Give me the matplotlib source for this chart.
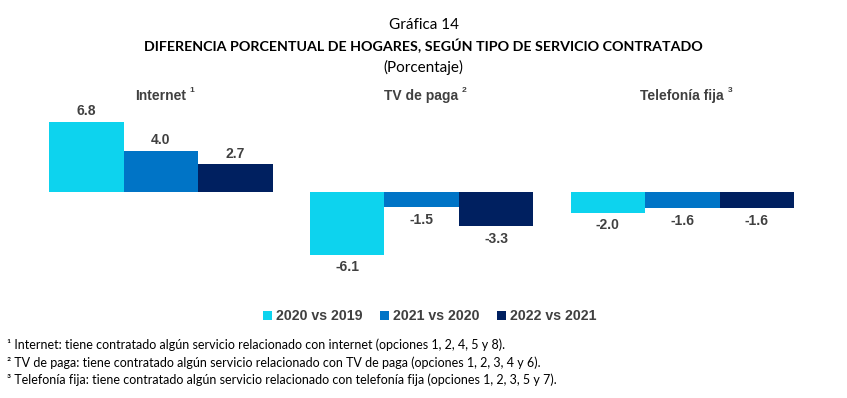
import matplotlib
matplotlib.use("Agg")
import matplotlib.pyplot as plt
import numpy as np

groups = ["Internet", "TV de paga", "Telefonía fija"]
group_sup = ["1", "2", "3"]
series = ["2020 vs 2019", "2021 vs 2020", "2022 vs 2021"]
v2020 = [6.8, -6.1, -2.0]
v2021 = [4.0, -1.5, -1.6]
v2022 = [2.7, -3.3, -1.6]
colors = ["#0DD3EE", "#0074C6", "#002060"]
footnotes = [
    "¹ Internet: tiene contratado algún servicio relacionado con internet (opciones 1, 2, 4, 5 y 8).",
    "² TV de paga: tiene contratado algún servicio relacionado con TV de paga (opciones 1, 2, 3, 4 y 6).",
    "³ Telefonía fija: tiene contratado algún servicio relacionado con telefonía fija (opciones 1, 2, 3, 5 y 7).",
]

W, H = 847, 398
fig = plt.figure(figsize=(W / 100, H / 100), dpi=100)
fig.patch.set_facecolor("white")

ax_left, ax_right = 49, 794
ax_top, ax_bot = 110, 270
ax = fig.add_axes([ax_left / W, 1 - ax_bot / H, (ax_right - ax_left) / W, (ax_bot - ax_top) / H])
ax.set_xlim(-0.5, 9.5)
ppu = 10.3
zero = 192
ax.set_ylim(-(ax_bot - zero) / ppu, (zero - ax_top) / ppu)
ax.axis("off")

LAB = ["Liberation Sans Narrow", "Liberation Sans", "DejaVu Sans"]
gray = "#404040"
base = np.arange(len(groups)) * 3.5
allvals = [v2020, v2021, v2022]
for i, (vals, c, name) in enumerate(zip(allvals, colors, series)):
    x = base + i
    ax.bar(x, vals, width=1.0, color=c, label=name, edgecolor="none")
    for xi, v in zip(x, vals):
        if v >= 0:
            ax.annotate(f"{v:.1f}", (xi, v), xytext=(0, 2.5), textcoords="offset points",
                        ha="center", va="bottom", fontsize=10, fontweight="bold",
                        color=gray, family=LAB)
        else:
            ax.annotate(f"{v:.1f}", (xi, v), xytext=(0, -4), textcoords="offset points",
                        ha="center", va="top", fontsize=10, fontweight="bold",
                        color=gray, family=LAB)

# group labels
for g, s, b in zip(groups, group_sup, base):
    xc = b + 1
    t = ax.text(xc, (zero - 96) / ppu, g, ha="center", va="center", fontsize=10,
                fontweight="bold", color=gray, family=["Liberation Sans", "DejaVu Sans"])
    ax.annotate(s, xy=(1, 1), xycoords=t, xytext=(2.5, -1), textcoords="offset points",
                ha="left", va="center", fontsize=6, fontweight="bold", color=gray,
                family=["Liberation Sans", "DejaVu Sans"])

# titles
TF = ["Lato", "DejaVu Sans"]
fig.text(0.5, 1 - 25 / H, "Gráfica 14", ha="center", va="center", fontsize=11, family=TF, color="black")
fig.text(0.5, 1 - 46 / H, "DIFERENCIA PORCENTUAL DE HOGARES, SEGÚN TIPO DE SERVICIO CONTRATADO",
         ha="center", va="center", fontsize=10.3, fontweight="bold", family=TF, color="black")
fig.text(0.5, 1 - 67 / H, "(Porcentaje)", ha="center", va="center", fontsize=11, family=TF, color="black")

# legend
leg = fig.legend(loc="center", bbox_to_anchor=(430 / W, 1 - 316 / H), ncol=3, frameon=False,
                 handlelength=0.6, handleheight=0.6, handletextpad=0.3, columnspacing=1.25,
                 prop={"family": ["Liberation Sans", "DejaVu Sans"], "weight": "bold", "size": 10.2})
for t in leg.get_texts():
    t.set_color(gray)

# footnotes
for k, fn in enumerate(footnotes):
    fig.text(7 / W, 1 - (345 + k * 17.5) / H, fn, ha="left", va="center", fontsize=9,
             family=["Lato", "DejaVu Sans"], color="black")

fig.savefig("out.png", dpi=100, facecolor="white")
